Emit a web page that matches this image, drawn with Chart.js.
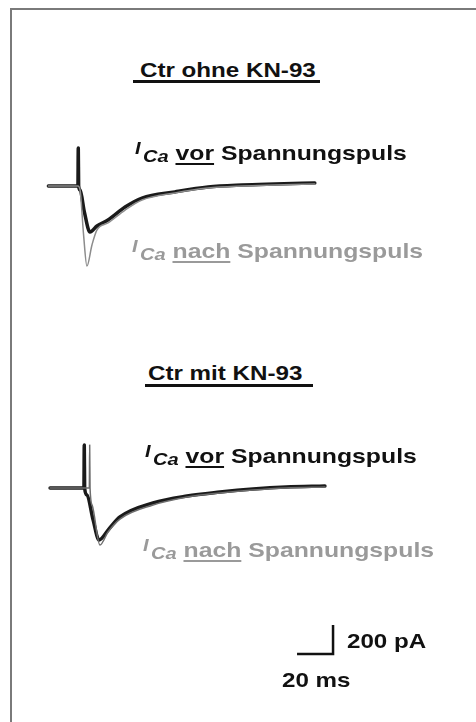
<!DOCTYPE html>
<html>
<head>
<meta charset="utf-8">
<script src="https://cdn.jsdelivr.net/npm/chart.js@4.4.1/dist/chart.umd.min.js"></script>
<style>
  html, body { margin: 0; padding: 0; background: #fff; }
  body { width: 476px; height: 722px; position: relative; overflow: hidden; }
  .frame { position: absolute; left: 10px; top: 8px; width: 480px; height: 730px; border: 2px solid #7a7a7a; box-sizing: border-box; }
  canvas { position: absolute; left: 0; }
  .lbl {
    position: absolute; white-space: nowrap; z-index: 2;
    font-family: "Liberation Sans", Arial, sans-serif; font-weight: bold;
    font-size: 21px; line-height: 21px; color: #111;
    transform: scaleX(1.15); transform-origin: 0 0;
  }
  .wide { transform: scaleX(1.18); }
  .gray { color: #9a9a9a; }
  .lbl u { text-decoration-thickness: 2px; text-underline-offset: 3px; }
  .sym { font-style: italic; font-size: 17px; position: relative; top: -6px; }
  .sub { font-style: italic; font-size: 17px; position: relative; top: 2px; margin-left: 2px; }
  .rule { position: absolute; height: 3px; background: #111; z-index: 2; }
</style>
</head>
<body>
<div class="frame"></div>

<div class="lbl" style="left:140px; top:59px;">Ctr ohne KN-93</div>
<div class="rule" style="left:133px; top:80px; width:187px;"></div>
<div class="lbl wide" style="left:135px; top:142px;"><span class="sym">I</span><span class="sub">Ca</span> <u>vor</u> Spannungspuls</div>
<div class="lbl wide gray" style="left:132px; top:240px;"><span class="sym">I</span><span class="sub">Ca</span> <u>nach</u> Spannungspuls</div>

<div class="lbl" style="left:148px; top:362px;">Ctr mit KN-93</div>
<div class="rule" style="left:145px; top:384px; width:168px;"></div>
<div class="lbl wide" style="left:145px; top:445px;"><span class="sym">I</span><span class="sub">Ca</span> <u>vor</u> Spannungspuls</div>
<div class="lbl wide gray" style="left:143px; top:539px;"><span class="sym">I</span><span class="sub">Ca</span> <u>nach</u> Spannungspuls</div>

<div class="lbl" style="left:347px; top:630px;">200 pA</div>
<div class="lbl" style="left:282px; top:669px;">20 ms</div>

<canvas id="topChart" width="476" height="200" style="top:100px;"></canvas>
<canvas id="bottomChart" width="476" height="300" style="top:400px;"></canvas>

<script>
// Ca current traces, time in ms (0 = depolarising step), current in pA
// Ctr ohne KN-93
const ohneVorT  = [-17, -0.6, -0.4, -0.2, 0.6, 3, 6.1, 10, 16.1, 25.6, 35, 53.3, 71.7, 90.6, 108.9, 131];
const ohneVorI  = [0, 0, 262, 0, -28, -180, -317, -276, -234, -145, -83, -41, -7, 7, 14, 21];
const ohneNachT = [-17, -0.6, 0.6, 2.5, 4.4, 7.2, 10, 16.1, 25.6, 35, 53.3, 71.7, 90.6, 108.9, 131];
const ohneNachI = [0, 0, -28, -330, -552, -407, -303, -255, -166, -97, -48, -14, 0, 7, 14];

// Ctr mit KN-93
const mitVorT  = [-19.4, -0.6, -0.4, -0.2, 1.1, 4.5, 7.8, 12.8, 19.4, 37.8, 56.7, 75, 93.3, 111.7, 133.3];
const mitVorI  = [0, 0, 297, 0, -48, -220, -359, -290, -200, -103, -55, -28, -7, 7, 14];
const mitNachT = [-19.4, 2.4, 2.6, 2.8, 4, 8.3, 12.8, 19.4, 37.8, 56.7, 75, 93.3, 111.7, 133.3];
const mitNachI = [0, 0, 297, 0, -120, -393, -303, -214, -117, -62, -34, -14, 0, 7];

// calibration bar
const scaleBarMs = 20;
const scaleBarPA = 200;

// layout: 1.8 px per ms, 0.145 px per pA
const PX_PER_MS = 1.8;
const PX_PER_PA = 29 / 200;

function pts(t, v) {
  return t.map((x, i) => ({ x: x, y: v[i] }));
}

function traceChart(id, t0px, basePx, heightPx, datasets) {
  const canvas = document.getElementById(id);
  return new Chart(canvas, {
    type: 'line',
    data: { datasets: datasets },
    options: {
      responsive: false,
      animation: false,
      events: [],
      layout: { padding: 0 },
      elements: {
        point: { radius: 0 },
        line: { cubicInterpolationMode: 'monotone', borderCapStyle: 'round', borderJoinStyle: 'round' }
      },
      plugins: { legend: { display: false }, tooltip: { enabled: false } },
      scales: {
        x: { type: 'linear', display: false, min: -t0px / PX_PER_MS, max: (476 - t0px) / PX_PER_MS },
        y: { type: 'linear', display: false, min: -(heightPx - basePx) / PX_PER_PA, max: basePx / PX_PER_PA }
      }
    }
  });
}

document.addEventListener('DOMContentLoaded', function () {
  traceChart('topChart', 79, 86, 200, [
    { data: pts(ohneNachT, ohneNachI), borderColor: '#8c8c8c', borderWidth: 1.5, order: 0 },
    { data: pts(ohneVorT, ohneVorI), borderColor: '#1a1a1a', borderWidth: 3.5, order: 1 }
  ]);

  // scale bar anchor (corner of the L), in data units of the lower panel
  const barT = 137.8, barI = -1145;
  traceChart('bottomChart', 85, 88, 300, [
    { data: pts(mitNachT, mitNachI), borderColor: '#6e6e6e', borderWidth: 1.5, order: 0 },
    { data: pts(mitVorT, mitVorI), borderColor: '#1a1a1a', borderWidth: 3.5, order: 1 },
    { data: [{ x: barT - scaleBarMs, y: barI }, { x: barT, y: barI }, { x: barT, y: barI + scaleBarPA }],
      borderColor: '#111', borderWidth: 2.5, borderCapStyle: 'butt', borderJoinStyle: 'miter',
      cubicInterpolationMode: 'default', tension: 0, order: 2 }
  ]);
});
</script>
</body>
</html>
